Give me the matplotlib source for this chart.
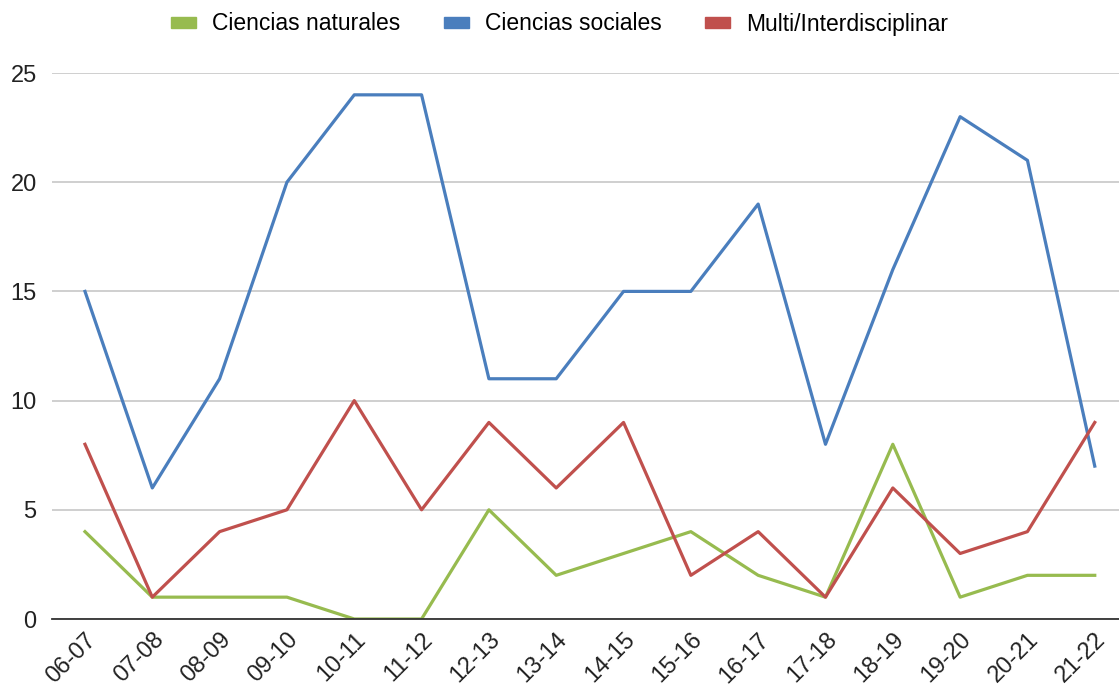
import matplotlib.pyplot as plt

years = ["06-07", "07-08", "08-09", "09-10", "10-11", "11-12", "12-13", "13-14",
         "14-15", "15-16", "16-17", "17-18", "18-19", "19-20", "20-21", "21-22"]
naturales = [4, 1, 1, 1, 0, 0, 5, 2, 3, 4, 2, 1, 8, 1, 2, 2]
sociales = [15, 6, 11, 20, 24, 24, 11, 11, 15, 15, 19, 8, 16, 23, 21, 7]
multi = [8, 1, 4, 5, 10, 5, 9, 6, 9, 2, 4, 1, 6, 3, 4, 9]

plt.rcParams['font.family'] = ['Liberation Sans', 'DejaVu Sans']

fig = plt.figure(figsize=(11.19, 6.86), dpi=100)
ax = fig.add_axes([52 / 1119, 67 / 686, 1 - 52 / 1119, (619 - 73) / 686])

x = range(len(years))
series = [
    ("Ciencias naturales", naturales, "#97bb4f"),
    ("Ciencias sociales", sociales, "#4a7ebd"),
    ("Multi/Interdisciplinar", multi, "#c0504d"),
]
for name, vals, color in series:
    ax.plot(x, vals, color=color, lw=2.3, label=name, zorder=3)

ax.set_xlim(-0.49, 15.36)
ax.set_ylim(0, 25)
ax.set_yticks([0, 5, 10, 15, 20, 25])
ax.set_xticks(list(x))
ax.set_xticklabels(years, rotation=45, ha='right', rotation_mode='anchor')
ax.tick_params(length=0, labelsize=17, colors='#222222')
ax.tick_params(axis='y', pad=11)
ax.tick_params(axis='x', pad=7)
ax.grid(axis='y', color='#cccccc', lw=1.3, zorder=0)
for s in ['top', 'right', 'left']:
    ax.spines[s].set_visible(False)
ax.spines['bottom'].set_color('#333333')
ax.spines['bottom'].set_linewidth(1.3)
ax.spines['bottom'].set_zorder(4)

handles = [plt.Rectangle((0, 0), 1, 1, color=c) for _, _, c in series]
fig.legend(handles, [n for n, _, _ in series], loc='center', bbox_to_anchor=(0.5, 1 - 24 / 686),
           ncol=3, frameon=False, fontsize=16.5, handlelength=1.1, handleheight=0.35,
           handletextpad=0.7, columnspacing=1.9)

fig.savefig("out.png", dpi=100)
